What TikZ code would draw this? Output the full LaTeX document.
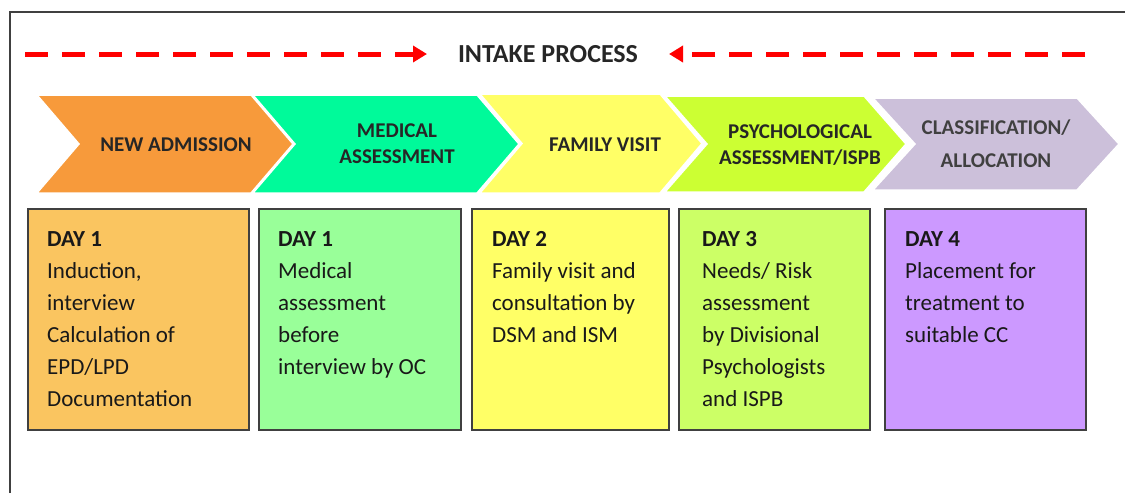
\documentclass[tikz,border=0pt]{standalone}
\usepackage{fontspec}
\setmainfont{Carlito}
\usetikzlibrary{arrows.meta}
\definecolor{admorange}{HTML}{F79A3B}
\definecolor{medgreen}{HTML}{00FA9A}
\definecolor{famyellow}{HTML}{FFFF66}
\definecolor{psylime}{HTML}{CCFF33}
\definecolor{clslav}{HTML}{CCC0DA}
\definecolor{boxorange}{HTML}{FAC560}
\definecolor{boxgreen}{HTML}{99FF99}
\definecolor{boxyellow}{HTML}{FFFF66}
\definecolor{boxlime}{HTML}{CCFF66}
\definecolor{boxviolet}{HTML}{CC99FF}
\definecolor{edgegray}{HTML}{404040}
\tikzset{chev/.style={draw=white, line width=1.5pt},
         daybox/.style={draw=edgegray, line width=1.6pt, anchor=north west,
         inner sep=0pt, minimum height=221pt},
         daytext/.style={anchor=north west, inner sep=0pt, align=left,
         font=\fontsize{23}{32}\selectfont, text=black!90},
         chevtext/.style={font=\bfseries\fontsize{21}{26}\selectfont,
         align=center, text=black!85},
         intake/.style={red, line width=5pt, dash pattern=on 23pt off 14pt,
         -{Triangle[length=14pt,width=16pt]}}}
% colour, left, right, top, bottom
\newcommand{\chevshape}[5]{%
  \filldraw[chev, fill=#1] (#2,#4) -- (#3,#4) -- ({#3+42},{(#4+#5)/2})
     -- (#3,#5) -- (#2,#5) -- ({#2+42},{(#4+#5)/2}) -- cycle;}

\begin{document}
\begin{tikzpicture}[x=1pt,y=-1pt]
        \useasboundingbox (0,0) rectangle (1125,493);
        \draw[edgegray, line width=2.5pt] (10,493) -- (10,12) -- (1125,12);

        % Title with arrows
        \node[font=\bfseries\fontsize{26}{30}\selectfont, text=black!85] (title) at (548,54) {INTAKE PROCESS};
        \coordinate (lstart) at (25,54);
        \coordinate (lend) at (427,54);
        \coordinate (rstart) at (1085,54);
        \coordinate (rend) at (669,54);
        \draw[intake] (lstart) -- (lend);
        \draw[intake] (rstart) -- (rend);

        % Chevrons
        \chevshape{admorange}{37}{251}{95}{193}
        \chevshape{medgreen}{253}{477}{95}{193}
        \chevshape{famyellow}{480}{660}{94}{193}
        \chevshape{psylime}{665}{864}{96}{192}
        \chevshape{clslav}{873}{1077}{98}{190}

        \node[chevtext] (adm) at (176,145) {NEW ADMISSION};
        \node[chevtext] (med) at (397,144) {MEDICAL\\ASSESSMENT};
        \node[chevtext] (fam) at (605,145) {FAMILY VISIT};
        \node[chevtext] (psy) at (800,145) {PSYCHOLOGICAL\\ASSESSMENT/ISPB};
        \node[chevtext, font=\bfseries\fontsize{21}{33}\selectfont, text=black!75] (cls) at (996,144) {CLASSIFICATION/\\ALLOCATION};

        % Day boxes
        \node[daybox, fill=boxorange, minimum width=221pt] (day1) at (27,208) {};
        \node[daybox, fill=boxgreen, minimum width=202pt] (day1b) at (258,208) {};
        \node[daybox, fill=boxyellow, minimum width=197pt] (day2) at (471,208) {};
        \node[daybox, fill=boxlime, minimum width=191pt] (day3) at (678,208) {};
        \node[daybox, fill=boxviolet, minimum width=201pt] (day4) at (884,208) {};

        \node[daytext] (txt1) at ([xshift=20pt,yshift=-23pt]day1.north west)
          {\textbf{DAY 1}\\Induction,\\interview\\Calculation of\\EPD/LPD\\Documentation};
        \node[daytext] (txt1b) at ([xshift=20pt,yshift=-23pt]day1b.north west)
          {\textbf{DAY 1}\\Medical\\assessment\\before\\interview by OC};
        \node[daytext] (txt2) at ([xshift=21pt,yshift=-23pt]day2.north west)
          {\textbf{DAY 2}\\Family visit and\\consultation by\\DSM and ISM};
        \node[daytext] (txt3) at ([xshift=24pt,yshift=-23pt]day3.north west)
          {\textbf{DAY 3}\\Needs/ Risk\\assessment\\by Divisional\\Psychologists\\and ISPB};
        \node[daytext] (txt4) at ([xshift=21pt,yshift=-23pt]day4.north west)
          {\textbf{DAY 4}\\Placement for\\treatment to\\suitable CC};
\end{tikzpicture}
\end{document}
